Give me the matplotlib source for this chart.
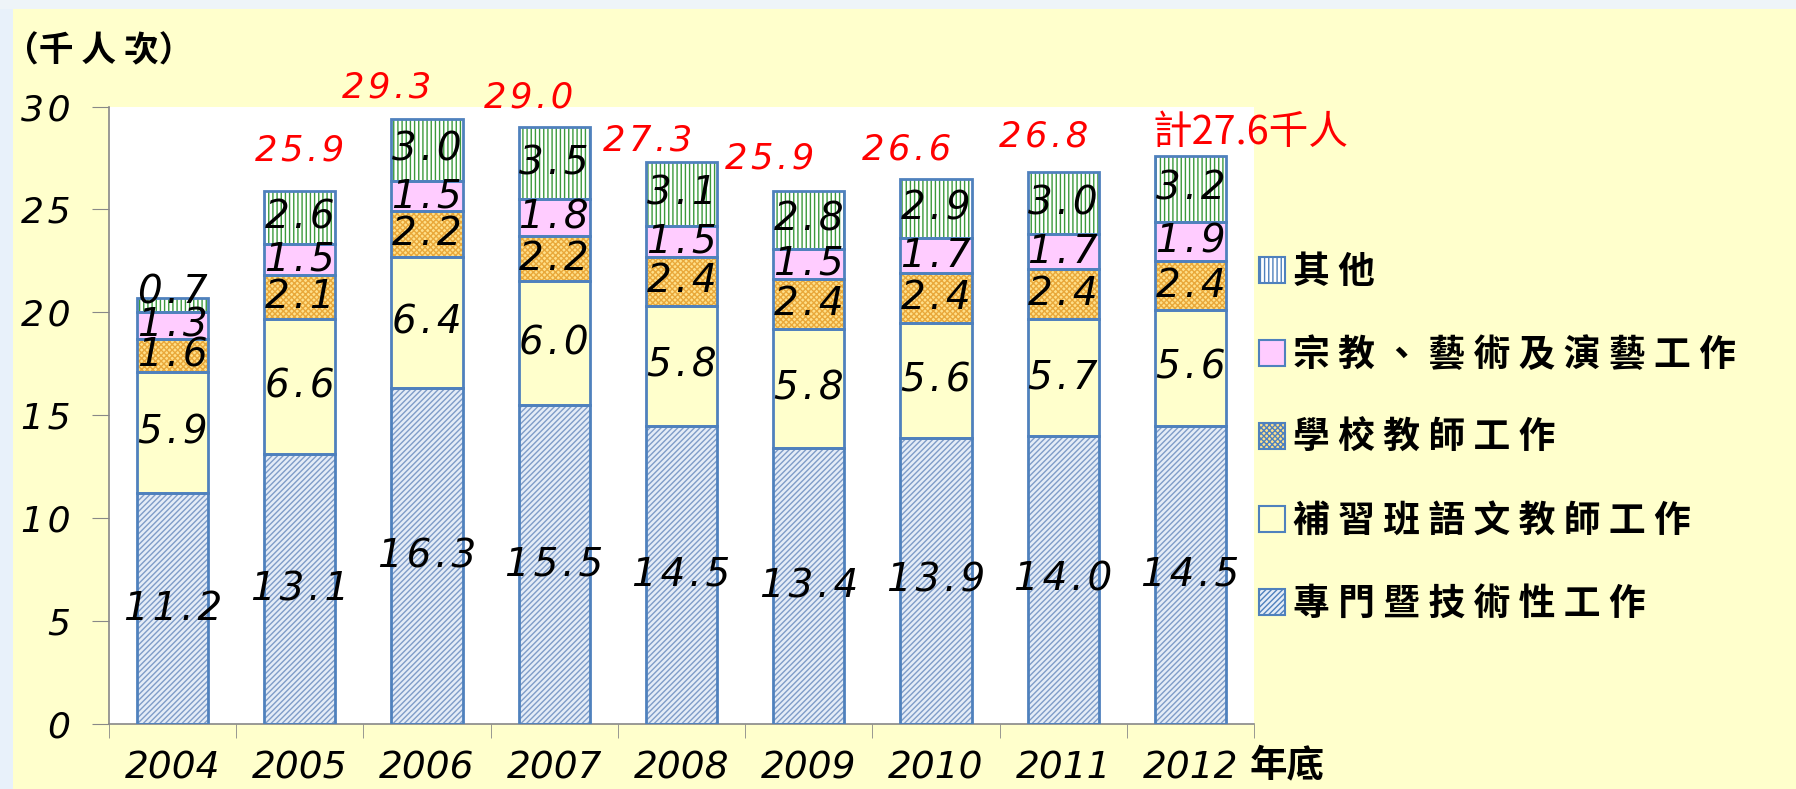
import matplotlib
matplotlib.use("Agg")
import matplotlib.pyplot as plt
from matplotlib.patches import Rectangle
import numpy as np

# 年底人次（千人次），由下往上堆疊
years = ["2004", "2005", "2006", "2007", "2008", "2009", "2010", "2011", "2012"]
series_names = ["專門暨技術性工作", "補習班語文教師工作", "學校教師工作",
                "宗教、藝術及演藝工作", "其他"]
professional = [11.2, 13.1, 16.3, 15.5, 14.5, 13.4, 13.9, 14.0, 14.5]
cram_language = [5.9, 6.6, 6.4, 6.0, 5.8, 5.8, 5.6, 5.7, 5.6]
school_teacher = [1.6, 2.1, 2.2, 2.2, 2.4, 2.4, 2.4, 2.4, 2.4]
religion_arts = [1.3, 1.5, 1.5, 1.8, 1.5, 1.5, 1.7, 1.7, 1.9]
others = [0.7, 2.6, 3.0, 3.5, 3.1, 2.8, 2.9, 3.0, 3.2]
total_labels = ["", "25.9", "29.3", "29.0", "27.3", "25.9", "26.6", "26.8", "計27.6千人"]
y_ticks = [0, 5, 10, 15, 20, 25, 30]

# where the red totals sit relative to the bar top (category units / data units)
total_dx = [0, 0, -0.32, -0.2, -0.27, -0.31, -0.23, -0.15, -0.3]
total_dy = [0, 1.98, 1.53, 1.42, 1.03, 1.59, 1.42, 1.76, 1.1]

CJK = ["Noto Sans CJK TC", "DejaVu Sans"]
EDGE = "#4F81BD"
BG = "#FFFFCC"
HAIR = "\u200a"
# facecolor, hatch, hatch colour
styles = [
    ("#E4ECF7", "//////", "#7F9CC8"),
    ("#FFFFCC", "", "#FFFFCC"),
    ("#FFE08A", "xxxxxx", "#E9A83A"),
    ("#FFCCFF", "", "#FFCCFF"),
    ("#FFFFFF", "||||", "#3C9A3C"),
]


def spaced(s):
    return HAIR.join(s)


plt.rcParams["hatch.linewidth"] = 1.0

fig = plt.figure(figsize=(17.96, 7.89), dpi=100, facecolor=BG)
fig.add_artist(Rectangle((0, 0), 0.007, 1, transform=fig.transFigure,
                         facecolor="#E8F1FA", edgecolor="none"))
fig.add_artist(Rectangle((0, 0.988), 1, 0.012, transform=fig.transFigure,
                         facecolor="#EEF4F8", edgecolor="none"))

ax = fig.add_axes([0.0607, 0.0824, 0.6375, 0.7826])
ax.set_facecolor("white")

x = np.arange(len(years))
width = 0.56
bottom = np.zeros(len(years))
series = [professional, cram_language, school_teacher, religion_arts, others]
handles = []
for vals, name, (fc, hatch, hc) in zip(series, series_names, styles):
    vals = np.asarray(vals)
    ax.bar(x, vals, width, bottom=bottom, color=fc, hatch=hatch,
           edgecolor=hc, linewidth=0, zorder=2)
    ax.bar(x, vals, width, bottom=bottom, facecolor="none",
           edgecolor=EDGE, linewidth=2, zorder=3)
    for xi, v, b in zip(x, vals, bottom):
        # very thin segments: label rides on the top edge, like the original
        yl = b + v + 0.25 if v < 1 else b + v / 2
        ax.text(xi, yl, spaced(f"{v:.1f}"), ha="center", va="center",
                fontsize=28, style="italic", color="black", zorder=4)
    handles.append(Rectangle((0, 0), 1, 1, facecolor=fc, hatch=hatch,
                             edgecolor=EDGE, linewidth=1.5))
    bottom = bottom + vals

for xi, tot, lab, dx, dy in zip(x, bottom, total_labels, total_dx, total_dy):
    if not lab:
        continue
    if lab.startswith("計"):
        ax.text(xi + dx, tot + dy, lab, ha="left", va="center", fontsize=28.5,
                color="red", family=CJK, clip_on=False)
    else:
        ax.text(xi + dx, tot + dy, spaced(lab), ha="center", va="center",
                fontsize=25.5, style="italic", color="red", clip_on=False)

ax.set_xlim(-0.5, len(years) - 0.5)
ax.set_ylim(0, 30)
ax.set_yticks(y_ticks)
ax.set_yticklabels([spaced(str(t)) for t in y_ticks], fontsize=26, style="italic")
ax.set_xticks(x)
ax.set_xticklabels(years, fontsize=27, style="italic")
ax.set_xticks(np.arange(-0.5, len(years)), minor=True)
ax.tick_params(axis="x", which="major", length=0, pad=19)
ax.tick_params(axis="x", which="minor", length=10, color="#888888")
ax.tick_params(axis="y", length=12, color="#888888", pad=16)
for s in ["top", "right"]:
    ax.spines[s].set_visible(False)
for s in ["left", "bottom"]:
    ax.spines[s].set_color("#888888")
    ax.spines[s].set_linewidth(1.2)

fig.text(0.002, 0.935, "（千 人 次）", fontsize=25, fontweight="bold",
         family=CJK, ha="left", va="center")
fig.text(0.696, 0.030, "年底", fontsize=27, fontweight="bold",
         family=CJK, ha="left", va="center")

leg_labels = [" ".join(n) for n in series_names]
fig.legend(handles[::-1], leg_labels[::-1], loc="upper left",
           bbox_to_anchor=(0.701, 0.678), frameon=False,
           prop={"family": CJK, "size": 26.5, "weight": "bold"},
           handlelength=0.7, handleheight=0.7, handletextpad=0.22,
           labelspacing=1.25, borderpad=0, borderaxespad=0)

fig.savefig("out.png", dpi=100, facecolor=BG)
